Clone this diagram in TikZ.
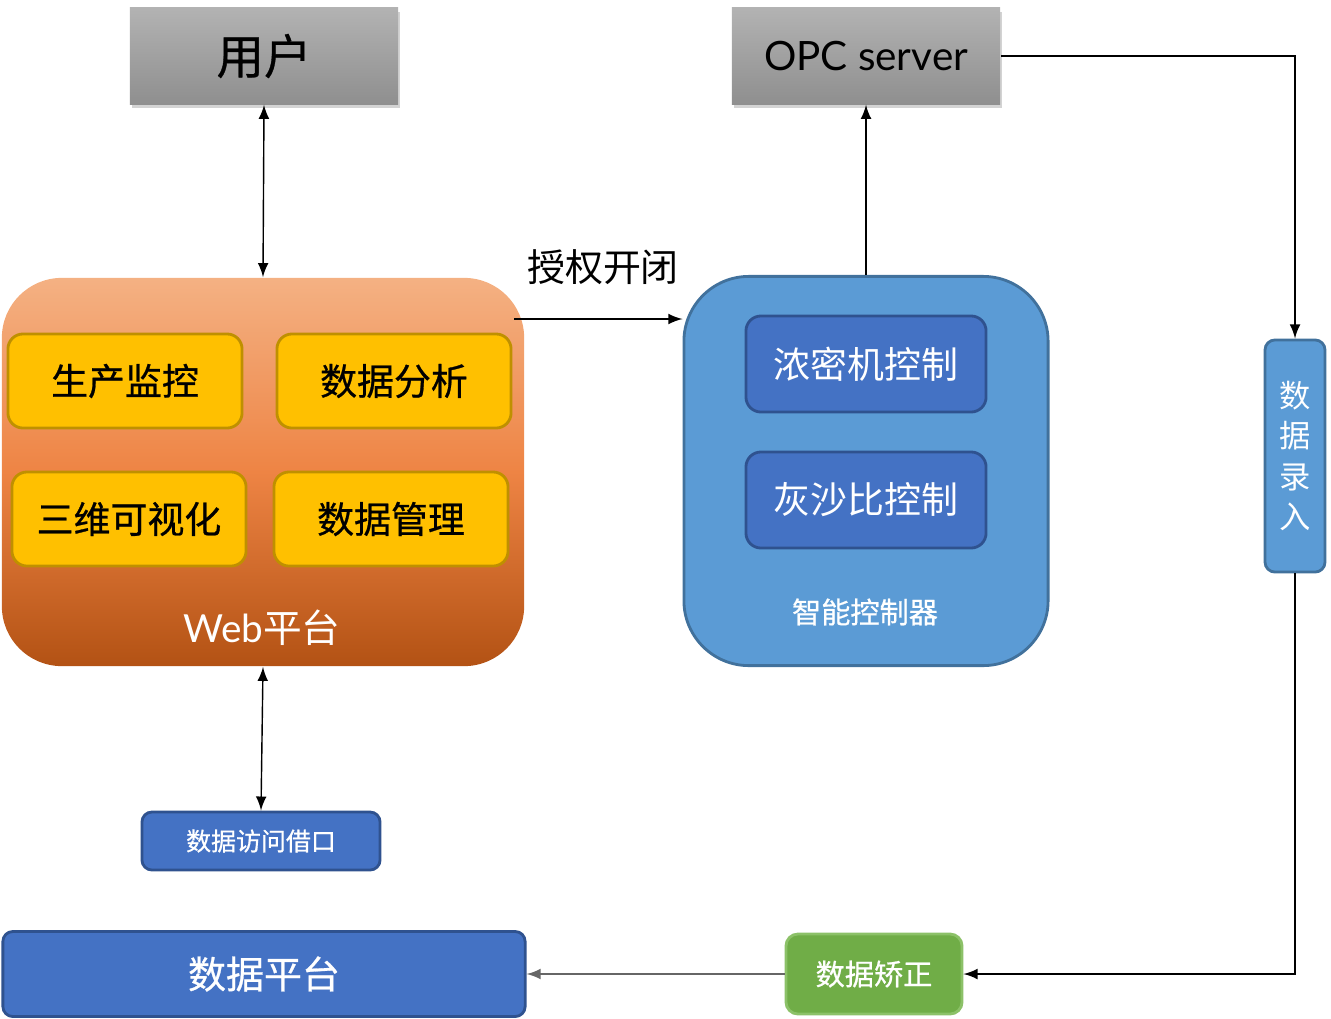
\documentclass[tikz,border=0pt]{standalone}
\usepackage{fontspec}
\setmainfont{Noto Sans CJK SC}
\newfontfamily\latinfont{Lato}
\newfontfamily\cjkmid{Noto Sans CJK SC}[FakeBold=0.7]
\usepackage{tikz}
\usetikzlibrary{shapes,arrows,shadows}
\definecolor{webtop}{HTML}{F4B183}
\definecolor{webmid}{HTML}{EE8444}
\definecolor{webbot}{HTML}{B35214}
\definecolor{modfill}{HTML}{FFC000}
\definecolor{moddraw}{HTML}{BF9000}
\definecolor{ctrlfill}{HTML}{5B9BD5}
\definecolor{ctrldraw}{HTML}{41719C}
\definecolor{darkblue}{HTML}{4472C4}
\definecolor{darkblueline}{HTML}{2F528F}
\definecolor{checkgreen}{HTML}{70AD47}
\definecolor{checkline}{HTML}{8CC168}
\tikzstyle{server} = [rectangle, minimum width=2.68cm, minimum height=0.96cm, top color=black!30,
bottom color=black!44, drop shadow={opacity=0.35,shadow xshift=0.02cm,shadow yshift=-0.04cm}]
\tikzstyle{module} = [rectangle, rounded corners=0.15cm, minimum width=2.34cm, minimum height=0.94cm,
fill=modfill, draw=moddraw, thick, text centered, font=\cjkmid\fontsize{10.5}{12}\selectfont]
\tikzstyle{control} = [rectangle, rounded corners=0.15cm, minimum width=2.4cm, minimum height=0.96cm,
fill=darkblue, draw=darkblueline, thick, text=white, font=\fontsize{10.5}{12}\selectfont]
\tikzstyle{arrow} = [->,>=latex]
\tikzstyle{twoway} = [<->,>=latex]

\begin{document}
\begin{tikzpicture}[x=0.01cm,y=-0.01cm]
                        \useasboundingbox (0,0) rectangle (1331,1018);
                        % top row
                        \node[server,font=\cjkmid\fontsize{13.5}{15}\selectfont] (user) at (264,56) {用户};
                        \node[server,font=\latinfont\fontsize{11.5}{14}\selectfont] (opc) at (866,56) {OPC server};
                        % web platform
                        \node[rectangle,rounded corners=0.6cm,minimum width=5.22cm,minimum height=3.88cm,
                            top color=webtop,bottom color=webbot,middle color=webmid] (web) at (263,472) {};
                        \node[module] (monitor) at (125,381) {生产监控};
                        \node[module] (analysis) at (394,381) {数据分析};
                        \node[module] (visual) at (129,519) {三维可视化};
                        \node[module] (manage) at (391,519) {数据管理};
                        \node[text=white,font=\latinfont\fontsize{11}{13}\selectfont] (weblabel) at (262,628) {Web\fontspec{Noto Sans CJK SC}平台};
                        % controller
                        \node[rectangle,rounded corners=0.65cm,minimum width=3.64cm,minimum height=3.89cm,
                            fill=ctrlfill,draw=ctrldraw,thick] (ctrl) at (866,471) {};
                        \node[control] (thicken) at (866,364) {浓密机控制};
                        \node[control] (ratio) at (866,500) {灰沙比控制};
                        \node[text=white,font=\cjkmid\fontsize{8.3}{10}\selectfont] (ctrllabel) at (865,612) {智能控制器};
                        \node[font=\fontsize{10.8}{13}\selectfont] (auth) at (603,267) {授权开闭};
                        % data side
                        \node[rectangle,rounded corners=0.1cm,minimum width=0.6cm,minimum height=2.32cm,
                            fill=ctrlfill,draw=ctrldraw,thick,text=white,align=center,
                            font=\fontsize{8.9}{11.4}\selectfont] (entry) at (1295,456) {数\\据\\录\\入};
                        \node[rectangle,rounded corners=0.1cm,minimum width=2.38cm,minimum height=0.58cm,
                            fill=darkblue,draw=darkblueline,thick,text=white,
                            font=\cjkmid\fontsize{7.1}{9}\selectfont] (access) at (261,841) {数据访问借口};
                        \node[rectangle,rounded corners=0.1cm,minimum width=5.22cm,minimum height=0.85cm,
                            fill=darkblue,draw=darkblueline,thick,text=white,
                            font=\cjkmid\fontsize{10.8}{13}\selectfont] (platform) at (264,974) {数据平台};
                        \node[rectangle,rounded corners=0.12cm,minimum width=1.76cm,minimum height=0.8cm,
                            fill=checkgreen,draw=checkline,thick,text=white,
                            font=\cjkmid\fontsize{8.3}{10}\selectfont] (correct) at (874,974) {数据矫正};
                        \coordinate (authstart) at (514,319);
                        \coordinate (opccorner) at (1295,56);
                        \coordinate (entrycorner) at (1295,974);
                        % connectors
                        \draw[twoway] (user.south) -- (web.north);
                        \draw[twoway] (web.south) -- (access.north);
                        \draw[arrow] (authstart) -- (ctrl.west |- authstart);
                        \draw[arrow] (ctrl.north) -- (opc.south);
                        \draw[arrow] (opc.east) -- (opccorner) -- (entry.north);
                        \draw[arrow] (entry.south) -- (entrycorner) -- (correct.east);
                        \draw[arrow,draw=black!60] (correct.west) -- (platform.east);
                    \end{tikzpicture}
\end{document}
